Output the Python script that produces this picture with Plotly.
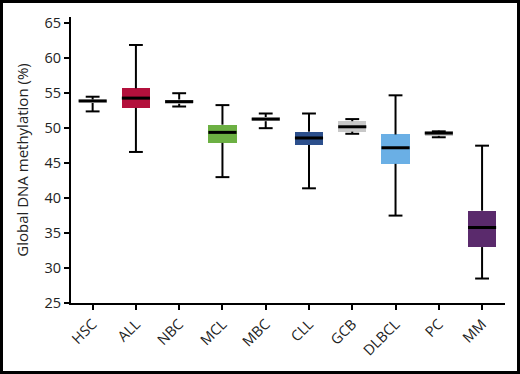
import plotly.graph_objects as go

categories = ["HSC", "ALL", "NBC", "MCL", "MBC", "CLL", "GCB", "DLBCL", "PC", "MM"]
lower = [52.4, 46.6, 53.1, 43.0, 50.0, 41.4, 49.2, 37.5, 48.7, 28.5]
q1 = [53.6, 52.9, 53.5, 47.9, 51.0, 47.6, 49.5, 44.9, 48.9, 33.0]
median = [53.9, 54.3, 53.8, 49.4, 51.3, 48.6, 50.2, 47.2, 49.3, 35.8]
q3 = [54.1, 55.7, 54.1, 50.5, 51.6, 49.5, 51.0, 49.1, 49.65, 38.2]
upper = [54.5, 61.9, 55.0, 53.3, 52.1, 52.1, 51.3, 54.7, 49.55, 47.5]
colors = ["#d2d2d2", "#b3103c", "#d2d2d2", "#6cb043", "#d2d2d2", "#2c4f8c",
          "#c8c8c8", "#6aafe5", "#c8c8c8", "#5a2a6c"]
y_ticks = [25, 30, 35, 40, 45, 50, 55, 60, 65]

FONT = "Open Sans"
BOX_W = 0.65
CAP_HALF = 0.16
xs = list(range(len(categories)))

fig = go.Figure()

# colored boxes (q1..q3)
fig.add_trace(go.Bar(
    x=xs, y=[b - a for a, b in zip(q1, q3)], base=q1, width=BOX_W,
    marker=dict(color=colors, line=dict(width=0)), hoverinfo="skip", showlegend=False,
))

# whiskers + caps
wx, wy = [], []
for i in xs:
    wx += [i, i, None, i - CAP_HALF, i + CAP_HALF, None,
           i, i, None, i - CAP_HALF, i + CAP_HALF, None]
    wy += [q3[i], upper[i], None, upper[i], upper[i], None,
           q1[i], lower[i], None, lower[i], lower[i], None]
fig.add_trace(go.Scatter(x=wx, y=wy, mode="lines", line=dict(color="black", width=2),
                         hoverinfo="skip", showlegend=False))

# medians
mx, my = [], []
for i in xs:
    mx += [i - BOX_W / 2, i + BOX_W / 2, None]
    my += [median[i], median[i], None]
fig.add_trace(go.Scatter(x=mx, y=my, mode="lines", line=dict(color="black", width=3),
                         hoverinfo="skip", showlegend=False))

W, H = 520, 374
ml, mr, mt, mb = 71, 15, 17, 71
pw, ph = W - ml - mr, H - mt - mb

fig.update_layout(
    width=W, height=H,
    margin=dict(l=ml, r=mr, t=mt, b=mb),
    paper_bgcolor="white", plot_bgcolor="white",
    font=dict(family=FONT, color="#222"),
    bargap=0,
    xaxis=dict(
        range=[-0.5, 9.53], tickmode="array", tickvals=xs, ticktext=categories,
        tickangle=-45, tickfont=dict(size=14.5, family=FONT, color="#222"),
        showgrid=False, zeroline=False, showline=True, linecolor="black", linewidth=2,
        ticks="outside", ticklen=5, tickwidth=2, tickcolor="black",
    ),
    yaxis=dict(
        range=[25, 65.9], tickmode="array", tickvals=y_ticks,
        tickfont=dict(size=14.5, family=FONT, color="#222"),
        title=dict(text="Global DNA methylation (%)", font=dict(size=15, family=FONT, color="#222"), standoff=12),
        showgrid=False, zeroline=False, showline=True, linecolor="black", linewidth=2,
        ticks="outside", ticklen=5, tickwidth=2, tickcolor="black",
    ),
    shapes=[dict(
        type="rect", xref="paper", yref="paper",
        x0=(1.5 - ml) / pw, x1=(W - 1.5 - ml) / pw,
        y0=-(mb - 1.5) / ph, y1=1 + (mt - 1.5) / ph,
        line=dict(color="black", width=3), layer="above",
    )],
)

fig.write_html("out.html", config={"displayModeBar": False},
               post_script="document.body.style.margin='0';document.body.style.overflow='hidden';")
